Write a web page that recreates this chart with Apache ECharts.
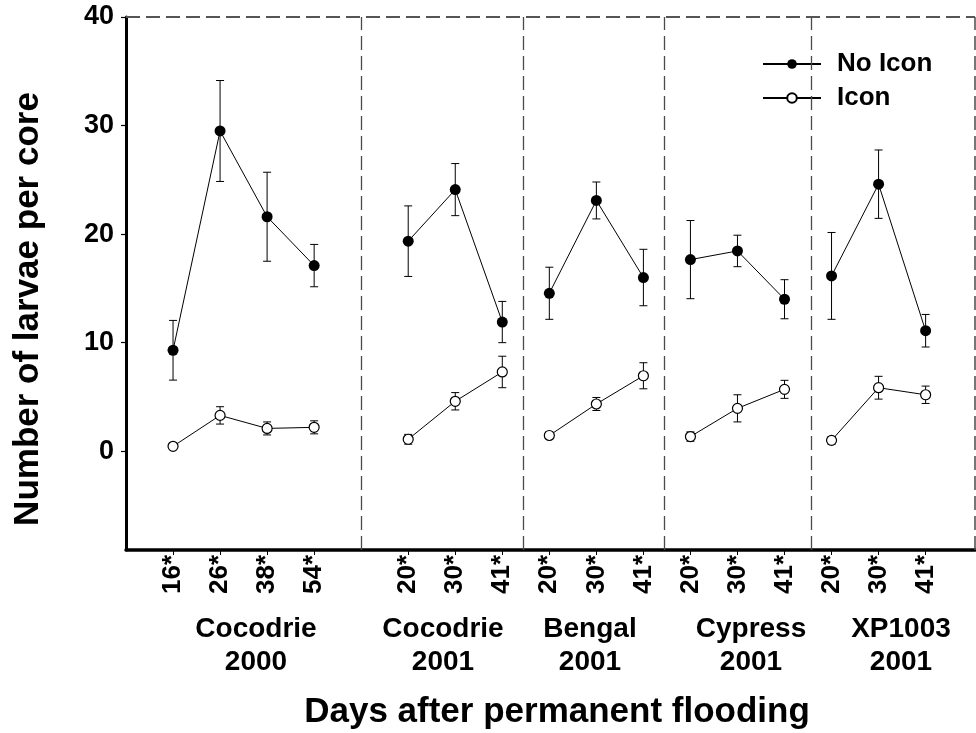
<!DOCTYPE html>
<html>
<head>
<meta charset="utf-8">
<script src="https://cdn.jsdelivr.net/npm/echarts@6/dist/echarts.min.js"></script>
<style>html,body{margin:0;padding:0;background:#fff}#c{width:976px;height:733px}</style>
</head>
<body>
<div id="c"></div>
<script>
// ---- data ----
var dayLabels = ['16*','26*','38*','54*','20*','30*','41*','20*','30*','41*','20*','30*','41*','20*','30*','41*'];
var slots     = [0,1,2,3, 5,6,7, 8,9,10, 11,12,13, 14,15,16];
var groupOf   = [0,0,0,0, 1,1,1, 2,2,2, 3,3,3, 4,4,4];
var groupNames = ['Cocodrie\n2000','Cocodrie\n2001','Bengal\n2001','Cypress\n2001','XP1003\n2001'];
var noIcon    = [9.3, 29.5, 21.6, 17.1, 19.35, 24.1, 11.9, 14.55, 23.1, 16.0, 17.65, 18.45, 14.0, 16.15, 24.6, 11.1];
var noIconErr = [2.75, 4.65, 4.1, 1.95, 3.25, 2.4, 1.9, 2.4, 1.7, 2.6, 3.6, 1.45, 1.8, 4.0, 3.15, 1.5];
var icon      = [0.45, 3.3, 2.1, 2.2, 1.1, 4.6, 7.3, 1.45, 4.35, 6.95, 1.35, 3.95, 5.7, 1.0, 5.85, 5.2];
var iconErr   = [0.2, 0.8, 0.6, 0.6, 0.45, 0.8, 1.45, 0.3, 0.6, 1.2, 0.43, 1.25, 0.83, 0.35, 1.05, 0.8];
var yTicks    = [0, 10, 20, 30, 40];

// ---- layout helpers ----
var separators = [4.0, 7.44, 10.44, 13.57];
var groupLabelX = [256, 443, 590, 751, 901];
var FONT = '"Liberation Sans", Arial, sans-serif';

function lineData(vals) {
  var out = [];
  for (var i = 0; i < vals.length; i++) {
    if (i > 0 && groupOf[i] !== groupOf[i-1]) out.push([null, null]);
    out.push([slots[i], vals[i]]);
  }
  return out;
}
function errData(vals, errs) {
  return vals.map(function (v, i) { return [slots[i], v - errs[i], v + errs[i]]; });
}
function errRender(params, api) {
  var x = api.value(0);
  var lo = api.coord([x, api.value(1)]);
  var hi = api.coord([x, api.value(2)]);
  var cw = 4;
  var st = { stroke: '#000', lineWidth: 1 };
  return { type: 'group', children: [
    { type: 'line', shape: { x1: lo[0], y1: lo[1], x2: hi[0], y2: hi[1] }, style: st },
    { type: 'line', shape: { x1: lo[0]-cw, y1: lo[1], x2: lo[0]+cw, y2: lo[1] }, style: st },
    { type: 'line', shape: { x1: hi[0]-cw, y1: hi[1], x2: hi[0]+cw, y2: hi[1] }, style: st }
  ]};
}

var dash = { color: '#4a4a4a', width: 1.3, type: [14, 6] };
var markLines = separators.map(function (s) { return { xAxis: s, lineStyle: dash }; });
markLines.push({ xAxis: 17.05, lineStyle: { color: '#4a4a4a', width: 1.5, type: [14, 6] } });
markLines.push({ yAxis: 40, lineStyle: { color: '#555', width: 2, type: [14, 6] } });

var graphics = [{
  type: 'text', x: 28, y: 309, rotation: Math.PI / 2,
  style: { text: 'Number of larvae per core', font: 'bold 35px ' + FONT, fill: '#000', align: 'center', verticalAlign: 'middle' }
}, {
  type: 'text', x: 557, y: 712,
  style: { text: 'Days after permanent flooding', font: 'bold 35px ' + FONT, fill: '#000', align: 'center', verticalAlign: 'middle' }
}];
groupNames.forEach(function (g, i) {
  graphics.push({
    type: 'text', x: groupLabelX[i], y: 646,
    style: { text: g, font: 'bold 28px ' + FONT, fill: '#000', align: 'center', verticalAlign: 'middle', lineHeight: 33 }
  });
});

var chart = echarts.init(document.getElementById('c'), null, { renderer: 'canvas' });
chart.setOption({
  animation: false,
  backgroundColor: '#fff',
  grid: { left: 126, right: 1, top: 17, bottom: 183 },
  legend: {
    data: ['No Icon', 'Icon'], orient: 'vertical', left: 762, top: 51,
    itemWidth: 58, itemHeight: 12, itemGap: 8, padding: 0,
    textStyle: { fontFamily: FONT, fontWeight: 'bold', fontSize: 26, color: '#000', padding: [0, 0, 0, 11] }
  },
  xAxis: {
    type: 'value', min: -1, max: 17.05,
    splitLine: { show: false },
    axisLine: { show: true, onZero: false, lineStyle: { color: '#000', width: 3.5 } },
    axisTick: { show: true, customValues: slots, length: 5, lineStyle: { color: '#000', width: 1 } },
    axisLabel: {
      customValues: slots, rotate: 90, margin: 5,
      fontFamily: FONT, fontWeight: 'bold', fontSize: 26, color: '#000',
      formatter: function (v) { var i = slots.indexOf(Math.round(v)); return i >= 0 ? dayLabels[i] : ''; }
    }
  },
  yAxis: {
    type: 'value', min: -9.1, max: 40,
    splitLine: { show: false },
    axisLine: { show: true, onZero: false, lineStyle: { color: '#000', width: 3 } },
    axisTick: { show: true, customValues: yTicks, length: 5, lineStyle: { color: '#000', width: 1.2 } },
    axisLabel: { customValues: yTicks, margin: 12, fontFamily: FONT, fontWeight: 'bold', fontSize: 27, color: '#000' }
  },
  graphic: graphics,
  series: [
    {
      type: 'custom', name: 'errNo', renderItem: errRender, data: errData(noIcon, noIconErr),
      encode: { x: 0, y: [1, 2] }, z: 1, silent: true,
      markLine: { silent: true, symbol: 'none', label: { show: false }, data: markLines }
    },
    { type: 'custom', name: 'errIcon', renderItem: errRender, data: errData(icon, iconErr), encode: { x: 0, y: [1, 2] }, z: 1, silent: true },
    {
      type: 'line', name: 'No Icon', data: lineData(noIcon), connectNulls: false,
      symbol: 'circle', symbolSize: 11, z: 3,
      itemStyle: { color: '#000', borderColor: '#000', borderWidth: 0 },
      lineStyle: { color: '#000', width: 1 }
    },
    {
      type: 'line', name: 'Icon', data: lineData(icon), connectNulls: false,
      symbol: 'circle', symbolSize: 10, z: 3,
      itemStyle: { color: '#fff', borderColor: '#000', borderWidth: 1.2 },
      lineStyle: { color: '#000', width: 1 }
    }
  ]
});
</script>
</body>
</html>
